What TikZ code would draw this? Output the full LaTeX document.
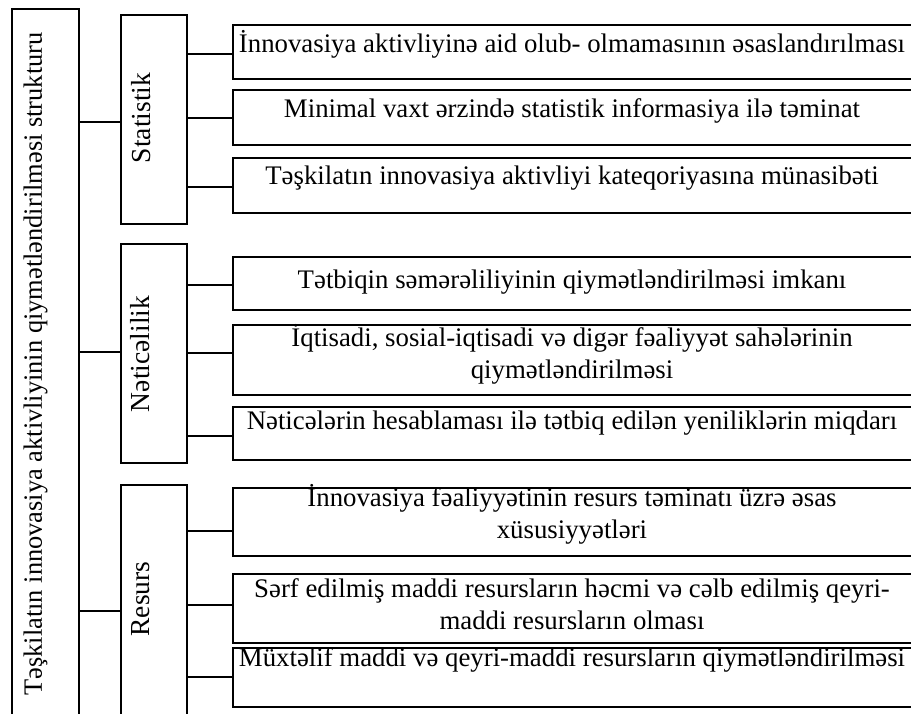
\documentclass[tikz,border=0pt]{standalone}
\usepackage{fontspec}
\setmainfont{Liberation Serif}
\newcommand{\twoline}[2]{\begin{tabular}[t]{@{}c@{}}#1\\#2\end{tabular}}
\begin{document}
\begin{tikzpicture}[x=1pt,y=1pt,
  box/.style={draw=black,line width=1.9pt,rectangle,inner sep=0pt,anchor=north west},
  catbox/.style={box,minimum width=66pt},
  itembox/.style={box,minimum width=683pt},
  txt/.style={inner sep=0pt,anchor=base,font=\fontsize{26.8}{32}\selectfont},
  vtxt/.style={inner sep=0pt,anchor=base,rotate=90,font=\fontsize{27.5}{32}\selectfont},
  conn/.style={draw=black,line width=1.5pt}]
\useasboundingbox (0,0) rectangle (911,714);
\clip (0,0) rectangle (911,714);
% boxes
\node[box,minimum width=67pt,minimum height=709pt] (main) at (11,706) {};
\node[catbox,minimum height=209pt] (stat) at (120,700) {};
\node[catbox,minimum height=219pt] (neti) at (120,471) {};
\node[catbox,minimum height=233pt] (res) at (120,230) {};
\node[itembox,minimum height=54pt] (b1) at (232,690) {};
\node[itembox,minimum height=55pt] (b2) at (232,625) {};
\node[itembox,minimum height=55pt] (b3) at (232,557) {};
\node[itembox,minimum height=53pt] (b4) at (232,458) {};
\node[itembox,minimum height=70pt] (b5) at (232,390) {};
\node[itembox,minimum height=53pt] (b6) at (232,308) {};
\node[itembox,minimum height=68pt] (b7) at (232,227) {};
\node[itembox,minimum height=69pt] (b8) at (232,141) {};
\node[itembox,minimum height=59pt] (b9) at (232,67) {};
% texts
\node[vtxt,font=\fontsize{26.4}{32}\selectfont] (tmain) at (42,350) {Təşkilatın innovasiya aktivliyinin qiymətləndirilməsi strukturu};
\node[vtxt] (tstat) at (150,596) {Statistik};
\node[vtxt] (tneti) at (149,360) {Nəticəlilik};
\node[vtxt] (tres) at (149,115) {Resurs};
\node[txt] (t1) at (572,661) {İnnovasiya aktivliyinə aid olub- olmamasının əsaslandırılması};
\node[txt] (t2) at (572,596) {Minimal vaxt ərzində statistik informasiya ilə təminat};
\node[txt] (t3) at (572,529) {Təşkilatın innovasiya aktivliyi kateqoriyasına münasibəti};
\node[txt] (t4) at (572,425) {Tətbiqin səmərəliliyinin qiymətləndirilməsi imkanı};
\node[txt] (t5) at (572,367) {\twoline{İqtisadi, sosial-iqtisadi və digər fəaliyyət sahələrinin}{qiymətləndirilməsi}};
\node[txt] (t6) at (572,284) {Nəticələrin hesablaması ilə tətbiq edilən yeniliklərin miqdarı};
\node[txt] (t7) at (572,207) {\twoline{İnnovasiya fəaliyyətinin resurs təminatı üzrə əsas}{xüsusiyyətləri}};
\node[txt] (t8) at (572,116) {\twoline{Sərf edilmiş maddi resursların həcmi və cəlb edilmiş qeyri-}{maddi resursların olması}};
\node[txt] (t9) at (572,47) {Müxtəlif maddi və qeyri-maddi resursların qiymətləndirilməsi};
% connector levels
\coordinate (ys) at (0,592);
\coordinate (yn) at (0,362);
\coordinate (yr) at (0,103);
\coordinate (y1) at (0,660);
\coordinate (y2) at (0,596);
\coordinate (y3) at (0,527);
\coordinate (y4) at (0,429);
\coordinate (y5) at (0,361);
\coordinate (y6) at (0,278);
\coordinate (y7) at (0,183);
\coordinate (y8) at (0,109);
\coordinate (y9) at (0,37);
% connectors
\draw[conn] (main.east |- ys) -- (stat.west |- ys);
\draw[conn] (main.east |- yn) -- (neti.west |- yn);
\draw[conn] (main.east |- yr) -- (res.west |- yr);
\draw[conn] (stat.east |- y1) -- (b1.west |- y1);
\draw[conn] (stat.east |- y2) -- (b2.west |- y2);
\draw[conn] (stat.east |- y3) -- (b3.west |- y3);
\draw[conn] (neti.east |- y4) -- (b4.west |- y4);
\draw[conn] (neti.east |- y5) -- (b5.west |- y5);
\draw[conn] (neti.east |- y6) -- (b6.west |- y6);
\draw[conn] (res.east |- y7) -- (b7.west |- y7);
\draw[conn] (res.east |- y8) -- (b8.west |- y8);
\draw[conn] (res.east |- y9) -- (b9.west |- y9);
\end{tikzpicture}
\end{document}
